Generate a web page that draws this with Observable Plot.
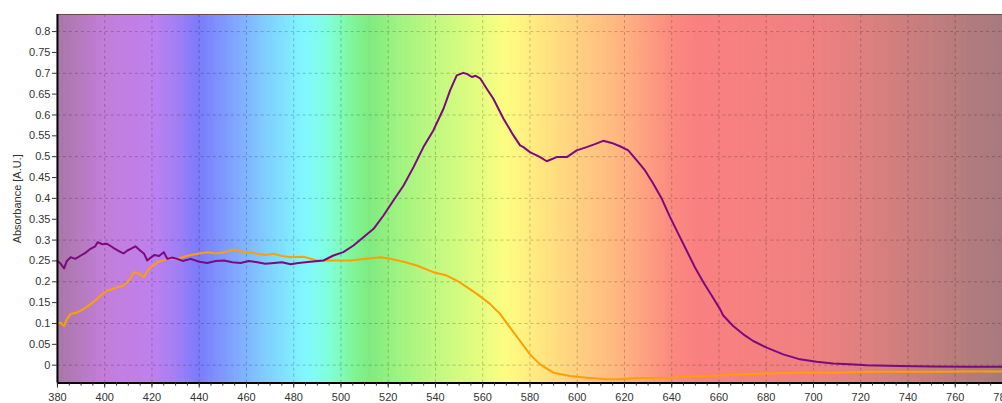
<!DOCTYPE html>
<html>
<head>
<meta charset="utf-8">
<script src="https://cdn.jsdelivr.net/npm/d3@7"></script>
<script src="https://cdn.jsdelivr.net/npm/@observablehq/plot@0.6"></script>
<style>
  html, body { margin: 0; padding: 0; background: #fff; overflow: hidden; }
  #chart { width: 1002px; height: 403px; overflow: hidden; }
</style>
</head>
<body>
<div id="chart"></div>
<script>
// ---- data ----
const purpleNm = [380,381.4,382.8,384,385.6,387.5,389.9,392,394,396,397,399,401,403,404,406.8,408,409.6,411,413,415,416.7,418,419.5,421,423,425,426.5,428.5,430.7,433,436.4,440,443.4,447,450.5,454,457.5,461,464.6,468,471.7,475,478.7,482,487,492.6,496.8,501,505.3,509.5,513.8,518,522.2,526.5,530.7,534.9,539.1,543.4,546.2,549,551.8,553.5,555.4,557,558.9,561.7,564.5,568.8,573,575.8,577.2,580,584.3,587.1,591.3,595.6,599.8,604,607.5,611,614.6,618.1,621.6,625.2,628.7,632.2,635.8,639.3,642.8,646.3,649.8,653.4,656.9,660.4,661.8,666,670.3,674.5,680.2,687.2,694.3,701.3,708.3,715.4,722.4,736.5,750.6,764.8,780];
const purpleAbs = [0.25,0.243,0.232,0.25,0.259,0.255,0.263,0.27,0.279,0.285,0.295,0.29,0.291,0.284,0.28,0.271,0.268,0.275,0.279,0.285,0.275,0.267,0.251,0.258,0.264,0.262,0.271,0.255,0.258,0.255,0.25,0.255,0.248,0.245,0.25,0.251,0.247,0.245,0.25,0.247,0.243,0.245,0.247,0.242,0.245,0.248,0.251,0.263,0.271,0.287,0.307,0.327,0.359,0.395,0.431,0.475,0.523,0.563,0.615,0.659,0.695,0.701,0.698,0.691,0.694,0.688,0.663,0.639,0.591,0.551,0.527,0.523,0.511,0.499,0.489,0.499,0.499,0.515,0.523,0.53,0.538,0.533,0.525,0.515,0.491,0.467,0.435,0.399,0.355,0.315,0.275,0.235,0.199,0.167,0.135,0.119,0.094,0.074,0.058,0.042,0.026,0.014,0.008,0.004,0.002,0.0,-0.002,-0.003,-0.004,-0.004];

const orangeNm = [380,381.4,382.8,384,385.6,387.5,389.9,392,394.1,396,398.3,401,403,405.3,407.5,409.6,411,412.4,414.5,416.6,418,419.5,422.3,426.5,430.7,433.5,436.4,440,443.4,447,450.5,454.7,458.9,462,464.6,468,471.7,475,478.7,484.2,489.8,496.8,503.9,510.9,516.6,520.8,526.5,532.1,539.1,544.8,549,553.3,557.5,563.1,567.3,571.6,575.8,580,584.3,589.9,597,604,612.5,618.1,625.2,632.2,639.3,646.3,653.4,666,680.2,694.3,708.3,722.4,736.5,750.6,764.8,780];
const orangeAbs = [0.1,0.102,0.094,0.11,0.123,0.125,0.131,0.138,0.147,0.155,0.167,0.179,0.182,0.187,0.19,0.199,0.21,0.223,0.22,0.211,0.225,0.235,0.247,0.255,0.255,0.26,0.264,0.268,0.271,0.268,0.271,0.277,0.271,0.27,0.267,0.264,0.267,0.262,0.259,0.26,0.251,0.251,0.251,0.255,0.259,0.255,0.248,0.239,0.223,0.215,0.203,0.187,0.171,0.147,0.123,0.09,0.058,0.026,0.002,-0.018,-0.026,-0.03,-0.034,-0.034,-0.031,-0.031,-0.03,-0.028,-0.026,-0.023,-0.02,-0.018,-0.018,-0.016,-0.016,-0.016,-0.015,-0.015];

// spectrum background stops
const bgNm    = [380, 400, 420, 430, 440, 450, 460, 470, 485, 495, 505, 512, 525, 540, 555, 570, 585, 600, 620, 640, 650, 700, 720, 740, 760, 780];
const bgColor = ["#a877a6","#c37ed9","#bf80ee","#a57ff5","#7a7bfb","#7f97ff","#80b4ff","#80d2ff","#80f8ff","#80ffdc","#80f59a","#7fea80","#a0f380","#c0f880","#dcfc80","#fdfd80","#ffe680","#ffd080","#ffb280","#fb8a80","#fa8080","#f08080","#e08080","#cc7e7e","#b87c7e","#a67a7e"];

const xTicks = [380,400,420,440,460,480,500,520,540,560,580,600,620,640,660,680,700,720,740,760,780];
const xMinorTicks = [380,385,390,395,400,405,410,415,420,425,430,435,440,445,450,455,460,465,470,475,480,485,490,495,500,505,510,515,520,525,530,535,540,545,550,555,560,565,570,575,580,585,590,595,600,605,610,615,620,625,630,635,640,645,650,655,660,665,670,675,680,685,690,695,700,705,710,715,720,725,730,735,740,745,750,755,760,765,770,775,780];
const yTicks = [0,0.05,0.1,0.15,0.2,0.25,0.3,0.35,0.4,0.45,0.5,0.55,0.6,0.65,0.7,0.75,0.8];
const xGrid = [400,420,440,460,480,500,520,540,560,580,600,620,640,660,680,700,720,740,760];
const yGrid = [0,0.1,0.2,0.3,0.4,0.5,0.6,0.7,0.8];

const yMin = -0.043, yMax = 0.841;

// ---- build tables ----
const purple = purpleNm.map((nm, i) => ({nm, a: purpleAbs[i]}));
const orange = orangeNm.map((nm, i) => ({nm, a: orangeAbs[i]}));
const colorAt = d3.scaleLinear().domain(bgNm).range(bgColor).interpolate(d3.interpolateRgb);
const bg = d3.range(380, 780, 1).map(nm => ({nm, c: colorAt(nm + 0.5)}));

const chart = Plot.plot({
  width: 1003,
  height: 403,
  marginTop: 14,
  marginBottom: 20,
  marginLeft: 57,
  marginRight: 0,
  style: {fontFamily: "'Liberation Sans', Arial, sans-serif", fontSize: "11px", color: "#333", background: "#fff"},
  x: {domain: [380, 780]},
  y: {domain: [yMin, yMax]},
  marks: [
    Plot.rect(bg, {x1: "nm", x2: d => d.nm + 1.3, y1: () => yMin, y2: () => yMax, fill: "c"}),
    Plot.ruleX(xGrid, {stroke: "#000", strokeOpacity: 0.22, strokeDasharray: "3,3"}),
    Plot.ruleY(yGrid, {stroke: "#000", strokeOpacity: 0.22, strokeDasharray: "3,3"}),
    Plot.line(orange, {x: "nm", y: "a", stroke: "#ff9f00", strokeWidth: 2}),
    Plot.line(purple, {x: "nm", y: "a", stroke: "#7d0a7d", strokeWidth: 2}),
    Plot.ruleY([yMax], {stroke: "#6b4a4a", strokeWidth: 1}),
    Plot.ruleX([380], {stroke: "#000", strokeWidth: 2}),
    Plot.ruleY([yMin], {stroke: "#000", strokeWidth: 2}),
    Plot.axisX({ticks: xMinorTicks, tickSize: 3, tickFormat: () => "", label: null, stroke: "#333"}),
    Plot.axisX({ticks: xTicks, tickSize: 5, tickPadding: 5, tickFormat: d => String(d), label: null, stroke: "#333"}),
    Plot.axisY({ticks: yTicks, tickSize: 5, tickPadding: 2, tickFormat: d => String(+d.toFixed(2)),
                label: "Absorbance [A.U.]", labelAnchor: "center", labelOffset: 44, labelArrow: false, stroke: "#333"})
  ]
});
document.getElementById("chart").appendChild(chart);
</script>
</body>
</html>
